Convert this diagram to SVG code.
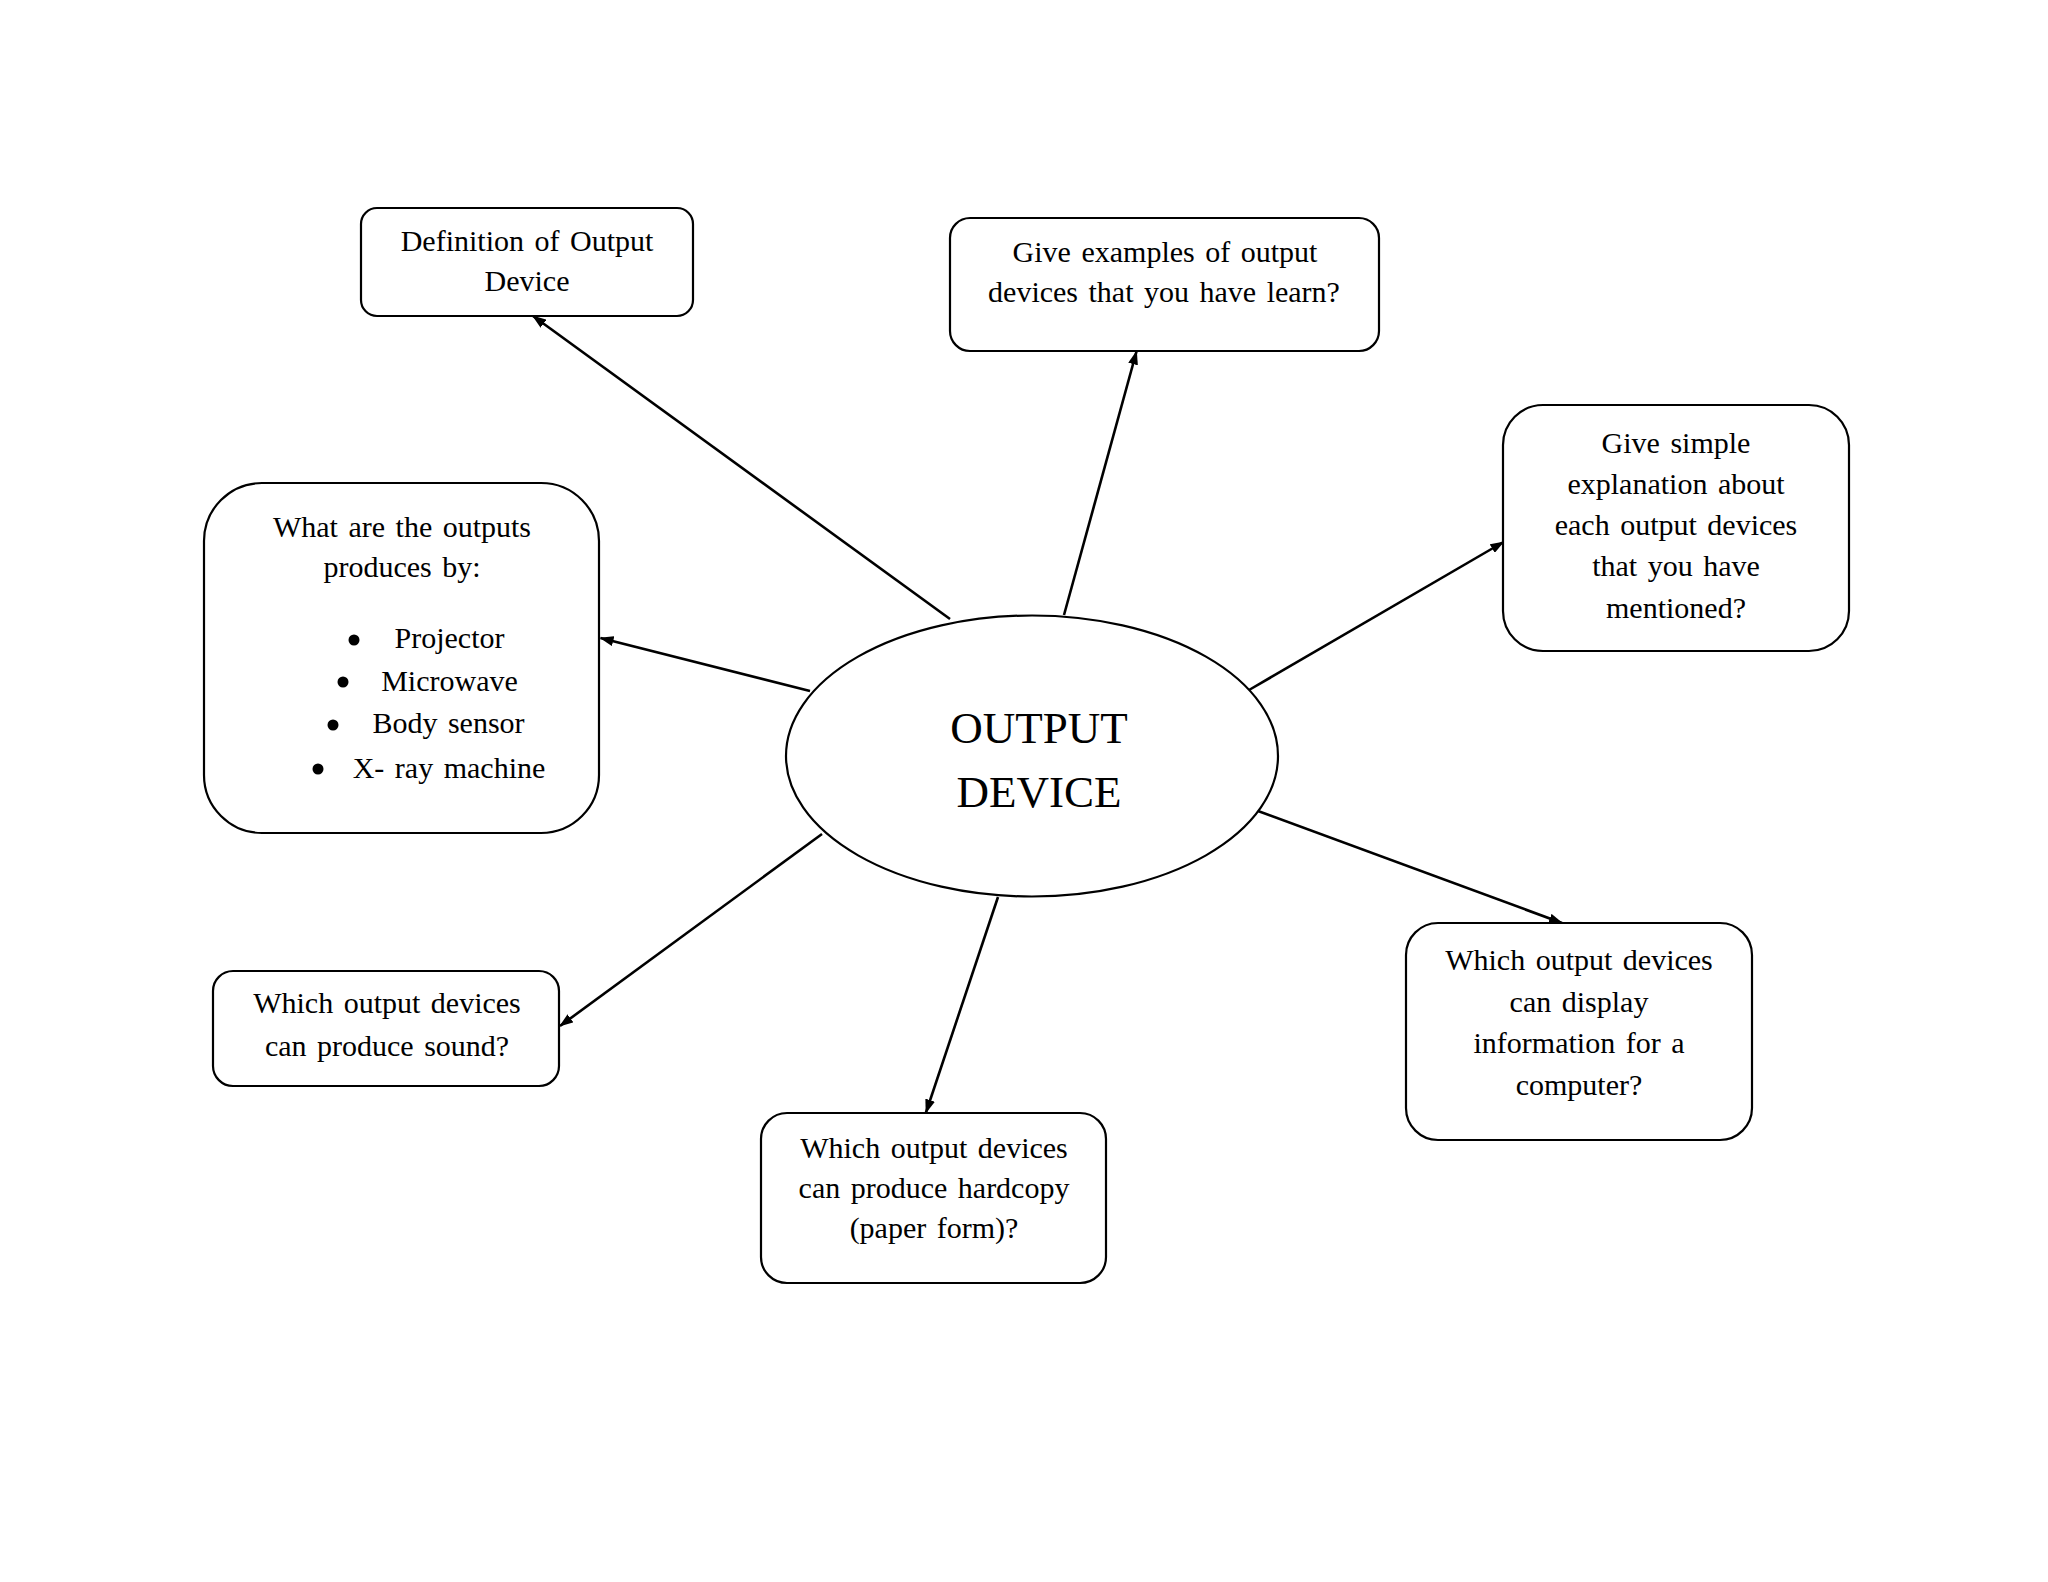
<svg xmlns="http://www.w3.org/2000/svg" width="2048" height="1582" viewBox="0 0 2048 1582">
<style>
.box{fill:#fff;stroke:#000;stroke-width:2.2}
.t{font-family:"Liberation Serif","Times New Roman",serif;font-size:30px;fill:#000;text-anchor:middle;word-spacing:3px}
.big{font-family:"Liberation Serif","Times New Roman",serif;font-size:45px;fill:#000;text-anchor:middle}
.c{stroke:#000;stroke-width:2.6;fill:none;marker-end:url(#ah)}
</style>
<defs>
<marker id="ah" markerUnits="userSpaceOnUse" markerWidth="14" markerHeight="10" refX="13" refY="5" orient="auto">
<path d="M0,0 L14,5 L0,10 Z" fill="#000"/>
</marker>
</defs>
<rect width="2048" height="1582" fill="#fff"/>
<g id="connectors">
<line class="c" x1="950" y1="619" x2="533" y2="316"/>
<line class="c" x1="1064" y1="615" x2="1136.5" y2="351.5"/>
<line class="c" x1="1249" y1="690" x2="1503.5" y2="542"/>
<line class="c" x1="810" y1="691" x2="600.5" y2="638"/>
<line class="c" x1="822" y1="834" x2="560" y2="1026"/>
<line class="c" x1="998" y1="897" x2="926" y2="1112.5"/>
<line class="c" x1="1258" y1="811" x2="1562" y2="923"/>
</g>
<g id="center">
<ellipse class="box" cx="1032" cy="756" rx="246" ry="140.5"/>
<text class="big" x="1039" y="743">OUTPUT</text>
<text class="big" x="1039" y="807">DEVICE</text>
</g>
<g id="definition">
<rect class="box" x="361" y="208" width="332" height="108" rx="16"/>
<text class="t" x="527" y="250.5">Definition  of Output</text>
<text class="t" x="527" y="291">Device</text>
</g>
<g id="examples">
<rect class="box" x="950" y="218" width="429" height="133" rx="20"/>
<text class="t" x="1165" y="261.5">Give examples  of output</text>
<text class="t" x="1164" y="301.5">devices that you have learn?</text>
</g>
<g id="explanation">
<rect class="box" x="1503" y="405" width="346" height="246" rx="40"/>
<text class="t" x="1676" y="453">Give simple</text>
<text class="t" x="1676" y="494">explanation about</text>
<text class="t" x="1676" y="535">each output devices</text>
<text class="t" x="1676" y="576">that you have</text>
<text class="t" x="1676" y="618">mentioned?</text>
</g>
<g id="outputs">
<rect class="box" x="204" y="483" width="395" height="350" rx="58"/>
<text class="t" x="402" y="536.5">What are the outputs</text>
<text class="t" x="402" y="577">produces by:</text>
<circle cx="354" cy="640" r="5.5"/>
<text class="t" x="449.5" y="648">Projector</text>
<circle cx="343" cy="682" r="5.5"/>
<text class="t" x="449.5" y="690.5">Microwave</text>
<circle cx="333" cy="725" r="5.5"/>
<text class="t" x="448.5" y="733">Body sensor</text>
<circle cx="318" cy="769" r="5.5"/>
<text class="t" x="449" y="778">X- ray machine</text>
</g>
<g id="sound">
<rect class="box" x="213" y="971" width="346" height="115" rx="20"/>
<text class="t" x="387" y="1013">Which output devices</text>
<text class="t" x="387" y="1056">can produce sound?</text>
</g>
<g id="hardcopy">
<rect class="box" x="761" y="1113" width="345" height="170" rx="26"/>
<text class="t" x="934" y="1158">Which output devices</text>
<text class="t" x="934" y="1198">can produce hardcopy</text>
<text class="t" x="934" y="1238">(paper form)?</text>
</g>
<g id="display">
<rect class="box" x="1406" y="923" width="346" height="217" rx="32"/>
<text class="t" x="1579" y="970">Which output devices</text>
<text class="t" x="1579" y="1011.5">can display</text>
<text class="t" x="1579" y="1053">information  for a</text>
<text class="t" x="1579" y="1095">computer?</text>
</g>
</svg>
